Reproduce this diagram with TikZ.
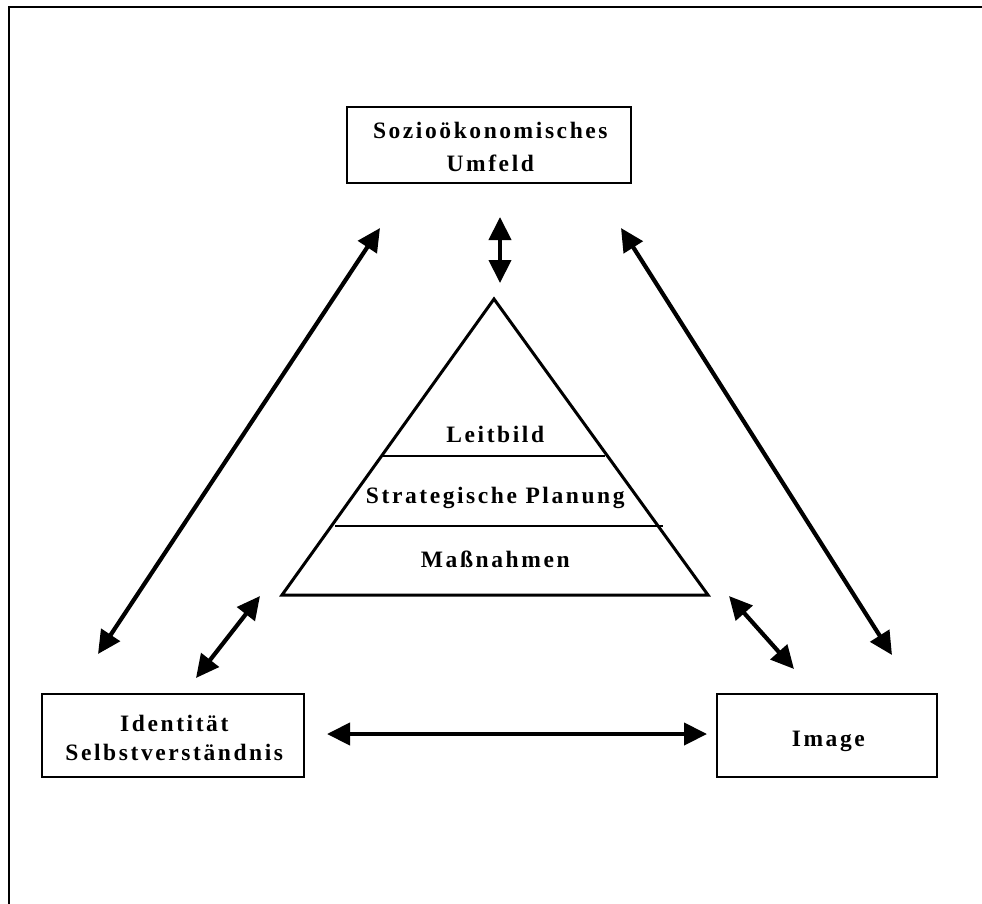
\documentclass[tikz,border=0pt]{standalone}
\usepackage{fontspec}
\setmainfont{Liberation Serif}[LetterSpace=11]
\usetikzlibrary{arrows.meta}
\begin{document}
\begin{tikzpicture}[x=1pt,y=-1pt,
  box/.style={draw,line width=1.6pt,inner sep=0},
  lbl/.style={font=\bfseries\fontsize{23.5}{28}\selectfont,inner sep=0,anchor=base,xshift=1.3pt},
  dbl/.style={line width=4.2pt,{Triangle[length=23pt,width=22pt]}-{Triangle[length=23pt,width=22pt]}},
  divline/.style={line width=1.2pt}]
\useasboundingbox (0,0) rectangle (982,903);
% outer frame
\draw[line width=2pt] (8.7,910) -- (8.7,7) -- (990,7);
% boxes
\node[box,minimum width=284pt,minimum height=76pt] (top) at (489,145) {};
\node[lbl] (topA) at (489,138.5) {Sozioökonomisches};
\node[lbl] (topB) at (489,171) {Umfeld};
\node[box,minimum width=262pt,minimum height=83pt] (ident) at (173,735.5) {};
\node[lbl] (idA) at (173,731) {Identität};
\node[lbl] (idB) at (173,760) {Selbstverständnis};
\node[box,minimum width=220pt,minimum height=83pt] (img) at (827,735.5) {};
\node[lbl] (imgA) at (827,746) {Image};
% pyramid
\coordinate (apex) at (494,299);
\coordinate (bl) at (282,595);
\coordinate (br) at (708,595);
\draw[line width=3pt,line join=miter] (apex) -- (bl) -- (br) -- cycle;
\coordinate (d1a) at (382,456); \coordinate (d1b) at (605,456);
\coordinate (d2a) at (335,526); \coordinate (d2b) at (663,526);
\draw[divline] (d1a) -- (d1b);
\draw[divline] (d2a) -- (d2b);
\node[lbl] (leit) at (494,442) {Leitbild};
\node[lbl] (strat) at (494,503) {Strategische Planung};
\node[lbl] (mass) at (494,567) {Maßnahmen};
% arrows
\coordinate (tl1) at (380,228); \coordinate (tl2) at (98,654);
\coordinate (tr1) at (621,228); \coordinate (tr2) at (892,655);
\coordinate (v1) at (500,217); \coordinate (v2) at (500,283);
\coordinate (sl1) at (260,596); \coordinate (sl2) at (196,678);
\coordinate (sr1) at (729,596); \coordinate (sr2) at (794,669);
\coordinate (h1) at (327,734); \coordinate (h2) at (707,734);
\draw[dbl] (tl1) -- (tl2);
\draw[dbl] (tr1) -- (tr2);
\draw[dbl] (v1) -- (v2);
\draw[dbl] (sl1) -- (sl2);
\draw[dbl] (sr1) -- (sr2);
\draw[dbl] (h1) -- (h2);
\end{tikzpicture}
\end{document}
